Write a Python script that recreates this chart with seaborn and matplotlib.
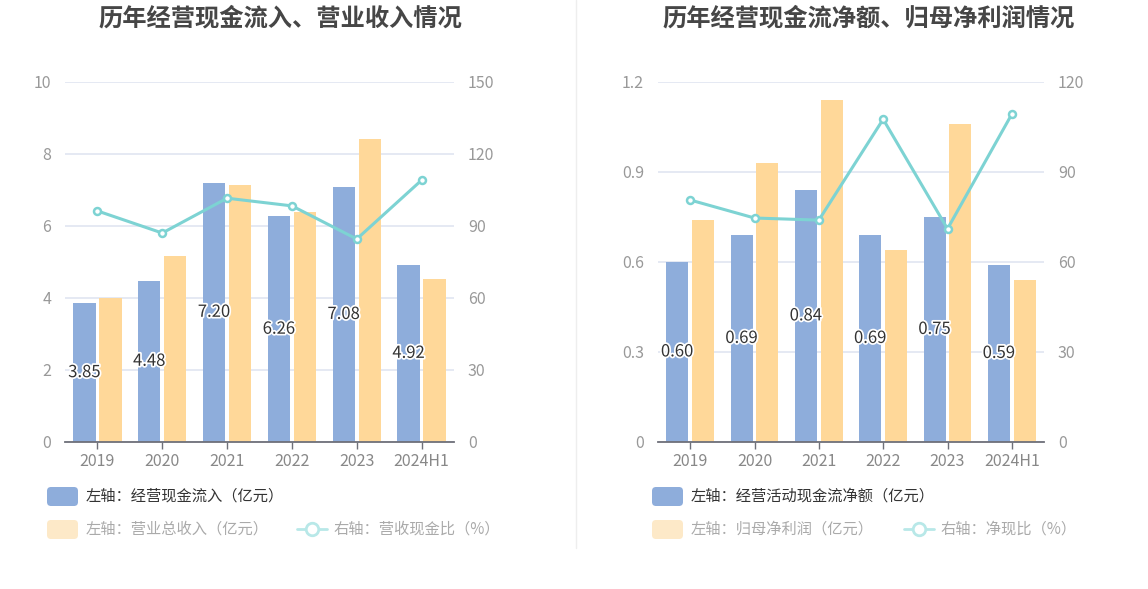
import pandas as pd
import matplotlib
matplotlib.use('Agg')
import matplotlib.pyplot as plt
import matplotlib.patheffects as pe
from matplotlib.patches import FancyBboxPatch
from matplotlib.lines import Line2D
from matplotlib.ticker import FuncFormatter
import seaborn as sns

years = ['2019', '2020', '2021', '2022', '2023', '2024H1']

# left panel
cash_inflow = [3.85, 4.48, 7.20, 6.26, 7.08, 4.92]
revenue = [4.01, 5.17, 7.12, 6.39, 8.41, 4.52]
cash_revenue_ratio = [96.2, 87.0, 101.5, 98.3, 84.5, 109.0]

# right panel
net_op_cash = [0.60, 0.69, 0.84, 0.69, 0.75, 0.59]
net_profit = [0.74, 0.93, 1.14, 0.64, 1.06, 0.54]
net_cash_ratio = [80.6, 74.6, 73.9, 107.5, 71.0, 109.2]

BLUE = '#8eaddb'
ORANGE = '#ffd899'
TEAL = '#7dd3d3'
TICK = '#999999'
FONT = ['Noto Sans CJK SC', 'DejaVu Sans']

sns.set_theme(style='white')
plt.rcParams['font.family'] = FONT


def draw_panel(ax, bar1, bar2, ratio, ymax, ystep, y2max):
    df = pd.DataFrame({
        'year': years * 2,
        'series': ['a'] * len(years) + ['b'] * len(years),
        'value': bar1 + bar2,
    })
    sns.barplot(data=df, x='year', y='value', hue='series', palette=[BLUE, ORANGE],
                saturation=1, width=0.8, gap=0.14, linewidth=0, legend=False, ax=ax)
    labels = ax.bar_label(ax.containers[0], fmt='%.2f', label_type='center',
                          fontsize=12, color='#333333')
    for t in labels:
        t.set_path_effects([pe.withStroke(linewidth=2.5, foreground='white')])

    ax.set_ylim(0, ymax)
    ax.set_yticks([i * ystep for i in range(int(round(ymax / ystep)) + 1)])
    ax.yaxis.set_major_formatter(FuncFormatter(lambda v, p: f'{v:g}'))
    ax.grid(axis='y', color='#e0e5f1', linewidth=1.2)
    ax.set_axisbelow(True)
    ax.set_xlabel('')
    ax.set_ylabel('')

    ax2 = ax.twinx()
    sns.pointplot(x=years, y=ratio, ax=ax2, color=TEAL, errorbar=None, markers='o',
                  linewidth=2.2, markersize=5, markerfacecolor='white',
                  markeredgecolor=TEAL, markeredgewidth=1.8)
    ax2.set_ylim(0, y2max)
    ax2.set_yticks(range(0, y2max + 1, 30))
    ax2.grid(False)
    ax2.set_ylabel('')
    ax.set_xlim(-0.5, len(years) - 0.5)

    for a in (ax, ax2):
        for s in ('top', 'left', 'right'):
            a.spines[s].set_visible(False)
        a.spines['bottom'].set_visible(False)
        a.tick_params(axis='y', length=0, labelsize=11.5, labelcolor=TICK, pad=10)
    ax.spines['bottom'].set_visible(True)
    ax.spines['bottom'].set_color('#6e7079')
    ax.spines['bottom'].set_linewidth(1.3)
    ax.tick_params(axis='x', length=5, width=1, color='#6e7079', direction='out',
                   labelsize=11.5, labelcolor='#888888', pad=3, bottom=True)
    return ax2


def px(x, y):
    return x / 100, (589 - y) / 100


def legend_box(fig, x, y, color):
    x0, y0 = px(x, y + 19)
    fig.add_artist(FancyBboxPatch((x0, y0), 0.31, 0.19,
                                  boxstyle='round,pad=0,rounding_size=0.04',
                                  transform=fig.dpi_scale_trans, facecolor=color,
                                  edgecolor='none'))


def legend_line(fig, x, y):
    x0, y0 = px(x, y)
    fig.add_artist(Line2D([x0, x0 + 0.30], [y0, y0], transform=fig.dpi_scale_trans,
                          color='#b8e8e8', linewidth=2))
    fig.add_artist(Line2D([x0 + 0.15], [y0], transform=fig.dpi_scale_trans,
                          marker='o', markersize=9, markerfacecolor='white',
                          markeredgecolor='#b8e8e8', markeredgewidth=2))


def legend_text(fig, x, y, s, color):
    x0, y0 = px(x, y)
    fig.text(x0, y0, s, transform=fig.dpi_scale_trans, ha='left', va='center',
             fontsize=11, color=color)


fig = plt.figure(figsize=(11.48, 5.89), dpi=100)
ax_l = fig.add_axes([65 / 1148, 1 - 442 / 589, 389 / 1148, 360.3 / 589])
ax_r = fig.add_axes([658 / 1148, 1 - 442 / 589, 386 / 1148, 360.3 / 589])

draw_panel(ax_l, cash_inflow, revenue, cash_revenue_ratio, 10, 2, 150)
draw_panel(ax_r, net_op_cash, net_profit, net_cash_ratio, 1.2, 0.3, 120)

fig.text(280 / 1148, 1 - 18 / 589, '历年经营现金流入、营业收入情况', ha='center', va='center',
         fontsize=17.5, fontweight='bold', color='#464646')
fig.text(869 / 1148, 1 - 18 / 589, '历年经营现金流净额、归母净利润情况', ha='center', va='center',
         fontsize=17.5, fontweight='bold', color='#464646')

# divider between panels
fig.add_artist(Line2D([5.76, 5.76], [px(0, 548)[1], 5.89], transform=fig.dpi_scale_trans,
                      color='#eeeeee', linewidth=1))

# legends
legend_box(fig, 47, 487, BLUE)
legend_text(fig, 86, 496, '左轴：经营现金流入（亿元）', '#333333')
legend_box(fig, 47, 520, '#fde9c8')
legend_text(fig, 86, 529, '左轴：营业总收入（亿元）', '#aaaaaa')
legend_line(fig, 297, 529)
legend_text(fig, 334, 529, '右轴：营收现金比（%）', '#aaaaaa')

legend_box(fig, 652, 487, BLUE)
legend_text(fig, 691, 496, '左轴：经营活动现金流净额（亿元）', '#333333')
legend_box(fig, 652, 520, '#fde9c8')
legend_text(fig, 691, 529, '左轴：归母净利润（亿元）', '#aaaaaa')
legend_line(fig, 904, 529)
legend_text(fig, 941, 529, '右轴：净现比（%）', '#aaaaaa')

fig.savefig('out.png', dpi=100)
